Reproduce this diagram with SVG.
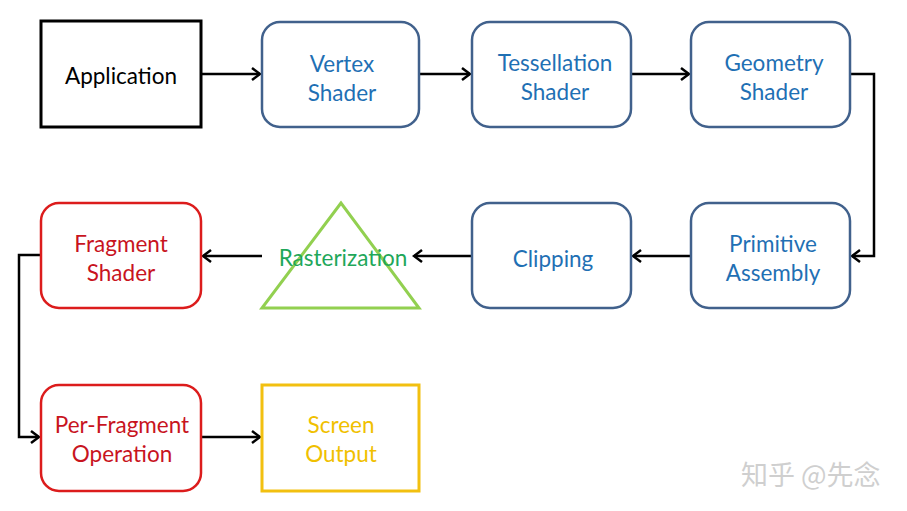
<svg xmlns="http://www.w3.org/2000/svg" width="907" height="511" viewBox="0 0 907 511">
<defs>
<style>
.t{font-family:Lato,"Open Sans","Liberation Sans",sans-serif;font-size:22.5px;text-anchor:middle}
.blue{fill:none;stroke:#41618c;stroke-width:2.5}
.red{fill:none;stroke:#dc1c1c;stroke-width:2.5}
.tb{fill:#1f70b4}
.tr{fill:#c8141e}
.c{fill:none;stroke:#000;stroke-width:2.5}
</style>
<marker id="a" markerWidth="12" markerHeight="14" refX="10" refY="7" orient="auto" markerUnits="userSpaceOnUse">
<path d="M2,1 L10,7 L2,13" fill="none" stroke="#000" stroke-width="2.5"/>
</marker>
</defs>
<rect width="907" height="511" fill="#fff"/>
<g id="connectors">
<line class="c" x1="201" y1="74" x2="260" y2="74" marker-end="url(#a)"/>
<line class="c" x1="419" y1="74" x2="470" y2="74" marker-end="url(#a)"/>
<line class="c" x1="631" y1="74" x2="689" y2="74" marker-end="url(#a)"/>
<polyline class="c" points="850,74 874,74 874,256 852,256" marker-end="url(#a)"/>
<line class="c" x1="691" y1="256" x2="633" y2="256" marker-end="url(#a)"/>
<line class="c" x1="472" y1="256" x2="414" y2="256" marker-end="url(#a)"/>
<line class="c" x1="262" y1="256" x2="203" y2="256" marker-end="url(#a)"/>
<polyline class="c" points="41,255 19,255 19,437 39,437" marker-end="url(#a)"/>
<line class="c" x1="201" y1="437" x2="260" y2="437" marker-end="url(#a)"/>
</g>
<g id="application">
<rect x="41" y="21" width="160" height="106" fill="none" stroke="#000" stroke-width="3"/>
<text class="t" x="121" y="84" fill="#000">Application</text>
</g>
<g id="vertex">
<rect class="blue" x="262" y="22" width="157" height="105" rx="18"/>
<text class="t tb" x="342" y="72">Vertex</text>
<text class="t tb" x="342" y="101">Shader</text>
</g>
<g id="tessellation">
<rect class="blue" x="472" y="22" width="159" height="105" rx="18"/>
<text class="t tb" x="555" y="71">Tessellation</text>
<text class="t tb" x="555" y="100">Shader</text>
</g>
<g id="geometry">
<rect class="blue" x="691" y="22" width="159" height="105" rx="18"/>
<text class="t tb" x="774" y="71">Geometry</text>
<text class="t tb" x="774" y="100">Shader</text>
</g>
<g id="primitive">
<rect class="blue" x="691" y="203" width="159" height="105" rx="18"/>
<text class="t tb" x="773" y="252">Primitive</text>
<text class="t tb" x="773" y="281">Assembly</text>
</g>
<g id="clipping">
<rect class="blue" x="472" y="203" width="159" height="105" rx="18"/>
<text class="t tb" x="553" y="267">Clipping</text>
</g>
<g id="rasterization">
<polygon points="341,203 262,308 419,308" fill="none" stroke="#92d050" stroke-width="3"/>
<text class="t" x="343" y="266" fill="#1fa75a">Rasterization</text>
</g>
<g id="fragment">
<rect class="red" x="41" y="203" width="160" height="105" rx="18"/>
<text class="t tr" x="121" y="252">Fragment</text>
<text class="t tr" x="121" y="281">Shader</text>
</g>
<g id="perfragment">
<rect class="red" x="41" y="385" width="160" height="106" rx="18"/>
<text class="t tr" x="122" y="433">Per-Fragment</text>
<text class="t tr" x="122" y="462">Operation</text>
</g>
<g id="screen">
<rect x="262" y="385" width="157" height="106" fill="none" stroke="#f2c010" stroke-width="3"/>
<text class="t" x="341" y="433" fill="#f0c000">Screen</text>
<text class="t" x="341" y="462" fill="#f0c000">Output</text>
</g>
<text x="741" y="485" font-family="'Noto Sans CJK SC',sans-serif" font-size="27" fill="#cfcfcf">知乎 @先念</text>
</svg>
